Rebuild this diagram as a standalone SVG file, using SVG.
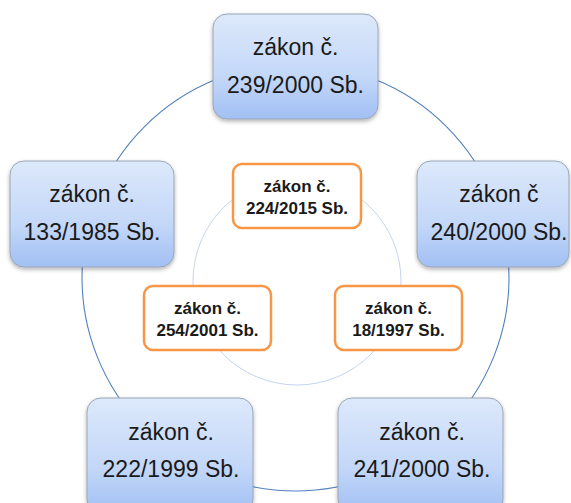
<svg xmlns="http://www.w3.org/2000/svg" width="571" height="503" viewBox="0 0 571 503">
<defs>
<linearGradient id="bg" x1="0" y1="0" x2="0" y2="1">
<stop offset="0" stop-color="#dde9fb"/>
<stop offset="0.6" stop-color="#c3d7f8"/>
<stop offset="1" stop-color="#a2c0f4"/>
</linearGradient>
<filter id="sh" x="-10%" y="-10%" width="120%" height="130%">
<feDropShadow dx="0" dy="2" stdDeviation="2" flood-color="#000" flood-opacity="0.3"/>
</filter>
<style>
.blue{fill:url(#bg);stroke:#9aa5b5;stroke-width:1;filter:url(#sh)}
.org{fill:#ffffff;stroke:#f79646;stroke-width:2.5}
.bt{font-family:"Liberation Sans",Arial,sans-serif;font-size:23px;fill:#1a1a1a;text-anchor:middle}
.ot{font-family:"Liberation Sans",Arial,sans-serif;font-size:17px;font-weight:bold;fill:#1a1a1a;text-anchor:middle}
</style>
</defs>
<rect width="571" height="503" fill="#ffffff"/>
<g id="connectors">
<circle cx="295.5" cy="277.5" r="213.5" fill="none" stroke="#4f81bd" stroke-width="1.1"/>
<circle cx="297" cy="281" r="104" fill="none" stroke="#c5d5ee" stroke-width="1"/>
</g>
<g id="n239">
<rect class="blue" x="213" y="14" width="165" height="105" rx="14"/>
<text class="bt" x="295.5" y="55">zákon č.</text>
<text class="bt" x="295.5" y="93">239/2000 Sb.</text>
</g>
<g id="n240">
<rect class="blue" x="417" y="161" width="152" height="106" rx="14"/>
<text class="bt" x="499" y="202">zákon č</text>
<text class="bt" x="499" y="240">240/2000 Sb.</text>
</g>
<g id="n133">
<rect class="blue" x="10" y="161" width="164" height="106" rx="14"/>
<text class="bt" x="92" y="202">zákon č.</text>
<text class="bt" x="92" y="240">133/1985 Sb.</text>
</g>
<g id="n222">
<rect class="blue" x="87" y="398" width="166" height="115" rx="14"/>
<text class="bt" x="171" y="440">zákon č.</text>
<text class="bt" x="171" y="477">222/1999 Sb.</text>
</g>
<g id="n241">
<rect class="blue" x="338" y="398" width="165" height="115" rx="14"/>
<text class="bt" x="422" y="440">zákon č.</text>
<text class="bt" x="422" y="477">241/2000 Sb.</text>
</g>
<g id="n224">
<rect class="org" x="233" y="164" width="128" height="64" rx="9"/>
<text class="ot" x="297" y="192">zákon č.</text>
<text class="ot" x="297" y="214">224/2015 Sb.</text>
</g>
<g id="n254">
<rect class="org" x="144" y="286" width="127" height="64" rx="9"/>
<text class="ot" x="207.5" y="314">zákon č.</text>
<text class="ot" x="207.5" y="336">254/2001 Sb.</text>
</g>
<g id="n18">
<rect class="org" x="335" y="286" width="127" height="64" rx="9"/>
<text class="ot" x="398.5" y="314">zákon č.</text>
<text class="ot" x="398.5" y="336">18/1997 Sb.</text>
</g>
</svg>
